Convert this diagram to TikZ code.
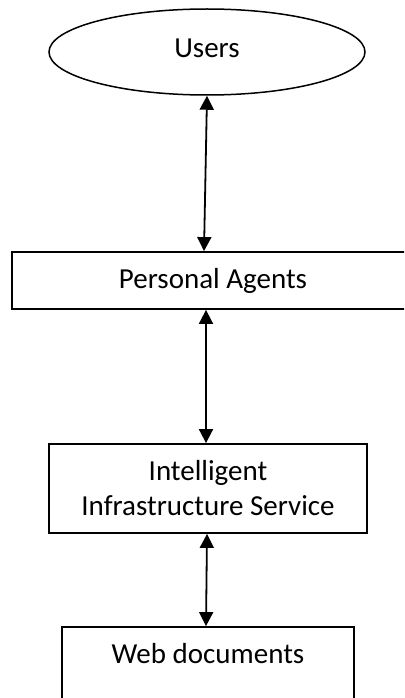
\documentclass[tikz,border=0pt]{standalone}
\usepackage{fontspec}
\setmainfont{Carlito}
\usetikzlibrary{shapes.geometric,arrows.meta}
\begin{document}
\begin{tikzpicture}[x=1pt, y=-1pt,
  font=\fontsize{29}{35}\selectfont,
  box/.style={draw, line width=1.8pt, inner sep=0pt, align=center},
  link/.style={{Triangle[width=14pt, length=14pt]}-{Triangle[width=14pt, length=14pt]}, line width=1.8pt}]
  % page frame
  \clip (0,0) rectangle (404,698);
  \fill[white] (0,0) rectangle (404,698);

  % layers, top to bottom
  \node (users) [draw, ellipse, line width=1.5pt, inner sep=0pt, text depth=8pt,
                 minimum width=316pt, minimum height=86pt] at (207,52) {Users};
  \node (agents) [box, minimum width=402pt, minimum height=57pt] at (213,280.5) {Personal Agents};
  \node (infra) [box, minimum width=318pt, minimum height=89pt] at (208,488.5)
        {Intelligent\\Infrastructure Service};
  \node (web) [box, minimum width=292pt, minimum height=87pt] at (208,670.5)
        {Web documents\\\mbox{}};

  % two-way links between layers
  \draw[link] (users.south) -- ([xshift=-9pt]agents.north);
  \draw[link] ([xshift=-7pt]agents.south) -- ([xshift=-2pt]infra.north);
  \draw[link] ([xshift=-1pt]infra.south) -- ([xshift=-2pt]web.north);
\end{tikzpicture}
\end{document}
